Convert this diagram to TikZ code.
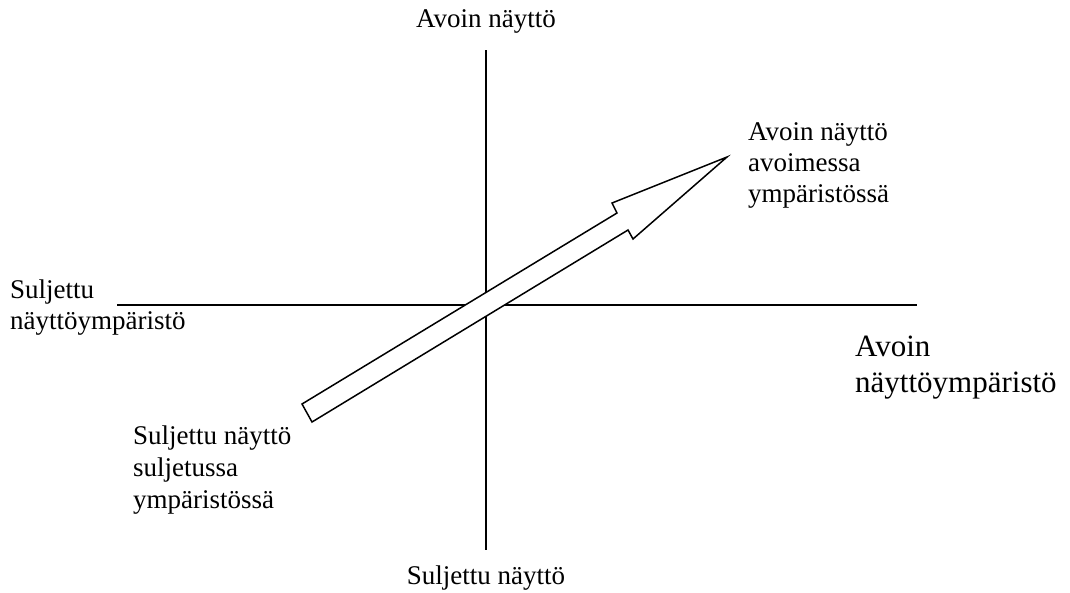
\documentclass[tikz,border=0pt]{standalone}
\usepackage{fontspec}
\setmainfont{Liberation Serif}
\usetikzlibrary{calc}

\tikzset{
  lab/.style={inner sep=0pt,align=left,font=\fontsize{27}{31}\selectfont},
  biglab/.style={inner sep=0pt,align=left,font=\fontsize{31}{36}\selectfont},
  axisline/.style={line width=1.6pt},
  bigarrow/.style={line width=1.5pt,fill=white,line join=miter}
}

\begin{document}
\begin{tikzpicture}[x=1pt,y=-1pt]
        \useasboundingbox (0,0) rectangle (1070,592);

        % axes
        \coordinate (top) at (486,50);
        \coordinate (bottom) at (486,550);
        \coordinate (left) at (117,305);
        \coordinate (right) at (917,305);
        \draw[axisline] (top)--(bottom);
        \draw[axisline] (left)--(right);

        % the wide arrow
        \draw[bigarrow]
          (302,404)--(617,213)--(612,203)--(727,157)
          --(633,239)--(628,230)--(312,422)--cycle;

        % labels of the axes
        \node[lab,anchor=base] (openscr) at (486,27) {Avoin näyttö};
        \node[lab,anchor=base] (closedscr) at (486,584) {Suljettu näyttö};
        \node[lab,anchor=north west] (closedenv) at (10,280)
          {Suljettu\\näyttöympäristö};
        \node[biglab,anchor=north west] (openenv) at (855,336)
          {Avoin\\näyttöympäristö};

        % corner labels
        \node[lab,anchor=north west] (openopen) at (748,122)
          {Avoin näyttö\\avoimessa\\ympäristössä};
        \node[lab,anchor=north west,font=\fontsize{27}{32}\selectfont]
          (closedclosed) at (133,426)
          {Suljettu näyttö\\suljetussa\\ympäristössä};
      \end{tikzpicture}
\end{document}
